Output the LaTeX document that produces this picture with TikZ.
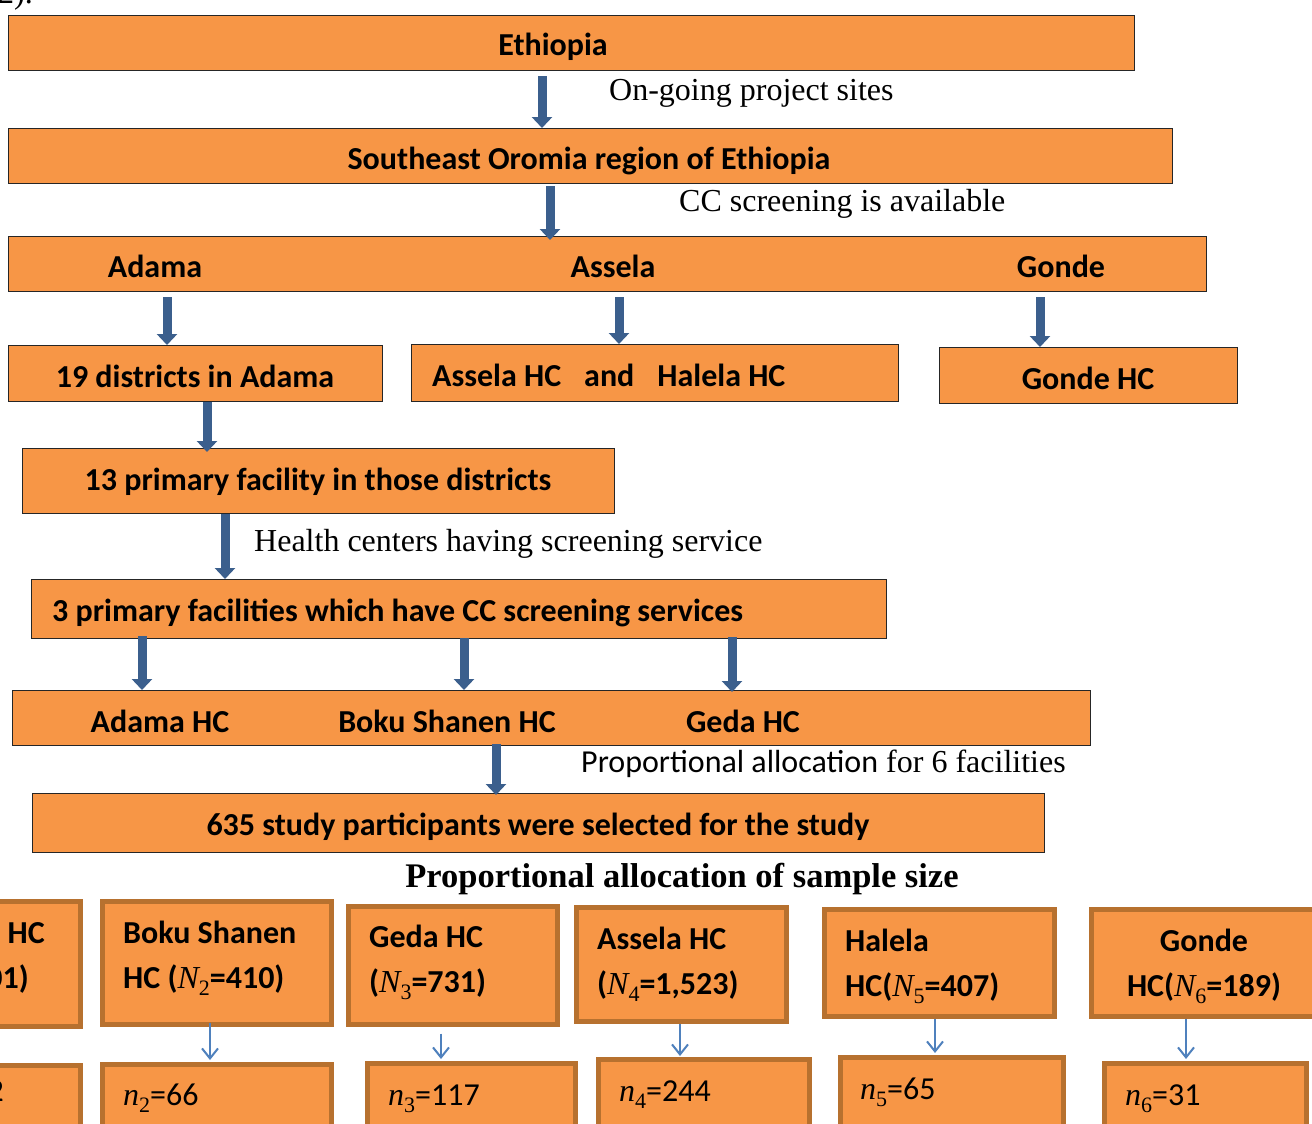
\documentclass[tikz,border=0pt]{standalone}
\usepackage{fontspec}
\setmainfont{Liberation Serif}
\newfontfamily\calfont{Carlito}
\usetikzlibrary{arrows.meta}
\definecolor{boxor}{HTML}{F79646}
\definecolor{boxedge}{HTML}{B7712F}
\definecolor{arrblue}{HTML}{3B5F8D}
\definecolor{thinblue}{HTML}{4F81BD}
\newcommand\mvar[2]{{\rmfamily\mdseries\itshape #1}\raisebox{-0.22em}{\rmfamily\mdseries\fontsize{22}{22}\selectfont #2}}
\begin{document}
\begin{tikzpicture}[x=1pt,y=-1pt,
 topbox/.style={draw=black!85, line width=1.3pt, fill=boxor, anchor=north west, inner sep=0pt},
 botbox/.style={draw=boxedge, line width=4.5pt, fill=boxor, anchor=north west, inner sep=0pt},
 boxtxt/.style={font=\calfont\bfseries\fontsize{32}{38}\selectfont, inner sep=0pt},
 smalltxt/.style={font=\calfont\fontsize{32}{38}\selectfont, inner sep=0pt},
 lbl/.style={font=\fontsize{32}{38}\selectfont, inner sep=0pt},
 bigarrow/.style={draw=arrblue, line width=9pt, -{Triangle[width=20pt,length=11pt]}},
 thinarrow/.style={draw=thinblue, line width=2pt, -{Straight Barb[width=16pt,length=10pt]}}]
\useasboundingbox[fill=white] (0,0) rectangle (1312,1124);

% partially visible heading
\node[lbl, anchor=base west] (hd) at (-2,4) {2).};

% ---------- top flow boxes ----------
\node[topbox, minimum width=1126pt, minimum height=55pt] (eth) at (8,15) {};
\node[topbox, minimum width=1164pt, minimum height=55pt] (sor) at (8,128) {};
\node[topbox, minimum width=1198pt, minimum height=55pt] (row3) at (8,236) {};
\node[topbox, minimum width=374pt, minimum height=56pt] (dist) at (8,345) {};
\node[topbox, minimum width=487pt, minimum height=57pt] (ash) at (411,344) {};
\node[topbox, minimum width=298pt, minimum height=56pt] (ghc) at (939,347) {};
\node[topbox, minimum width=592pt, minimum height=65pt] (prim) at (22,448) {};
\node[topbox, minimum width=855pt, minimum height=59pt] (three) at (31,579) {};
\node[topbox, minimum width=1078pt, minimum height=55pt] (hcrow) at (12,690) {};
\node[topbox, minimum width=1012pt, minimum height=59pt] (part) at (32,793) {};

% texts in boxes
\node[boxtxt, anchor=base] (tEth) at (553,56) {Ethiopia};
\node[boxtxt, anchor=base] (tSor) at (589,169) {Southeast Oromia region of Ethiopia};
\node[boxtxt, anchor=base] (tAd) at (155,277) {Adama};
\node[boxtxt, anchor=base] (tAs) at (613,277) {Assela};
\node[boxtxt, anchor=base] (tGo) at (1061,277) {Gonde};
\node[boxtxt, anchor=base] (tDist) at (195,387) {19 districts in Adama};
\node[boxtxt, anchor=base west] (tAsh) at (432,386) {Assela HC\hspace{23pt}and\hspace{23pt}Halela HC};
\node[boxtxt, anchor=base] (tGhc) at (1088,389) {Gonde HC};
\node[boxtxt, anchor=base] (tPrim) at (318,490) {13 primary facility in those districts};
\node[boxtxt, anchor=base west] (tThree) at (52,621) {3 primary facilities which have CC screening services};
\node[boxtxt, anchor=base] (tAhc) at (160,732) {Adama HC};
\node[boxtxt, anchor=base] (tBhc) at (447,732) {Boku Shanen HC};
\node[boxtxt, anchor=base] (tGdhc) at (743,732) {Geda HC};
\node[boxtxt, anchor=base] (tPart) at (538,835) {635 study participants were selected for the study};

% labels
\node[lbl, anchor=base west] (l1) at (609,100) {On-going project sites};
\node[lbl, anchor=base west] (l2) at (679,211) {CC screening is available};
\node[lbl, anchor=base west] (l3) at (254,551) {Health centers having screening service};
\node[lbl, anchor=base west] (l4) at (581,772) {{\calfont Proportional allocation} for 6 facilities};
\node[lbl, anchor=base, font=\bfseries\fontsize{34.5}{40}\selectfont] (l5) at (682,887) {Proportional allocation of sample size};

% arrow x positions
\coordinate (xa) at (542,0);
\coordinate (xb) at (550,0);
\coordinate (xc) at (167,0);
\coordinate (xd) at (619,0);
\coordinate (xe) at (1040,0);
\coordinate (xf) at (207,0);
\coordinate (xg) at (225,0);
\coordinate (xh) at (142,0);
\coordinate (xi) at (464,0);
\coordinate (xj) at (732,0);
\coordinate (xk) at (496,0);

\draw[bigarrow, shorten <=5pt] (eth.south -| xa) -- (sor.north -| xa);
\draw[bigarrow, shorten <=2pt, shorten >=-4pt] (sor.south -| xb) -- (row3.north -| xb);
\draw[bigarrow, shorten <=5pt] (row3.south -| xc) -- (dist.north -| xc);
\draw[bigarrow, shorten <=5pt] (row3.south -| xd) -- (ash.north -| xd);
\draw[bigarrow, shorten <=5pt] (row3.south -| xe) -- (ghc.north -| xe);
\draw[bigarrow, shorten >=-4pt] (dist.south -| xf) -- (prim.north -| xf);
\draw[bigarrow] (prim.south -| xg) -- (three.north -| xg);
\draw[bigarrow, shorten <=-3pt] (three.south -| xh) -- (hcrow.north -| xh);
\draw[bigarrow, shorten <=-1pt] (three.south -| xi) -- (hcrow.north -| xi);
\draw[bigarrow, shorten <=-2pt, shorten >=-2pt] (three.south -| xj) -- (hcrow.north -| xj);
\draw[bigarrow, shorten <=-2pt, shorten >=-2pt] (hcrow.south -| xk) -- (part.north -| xk);

% ---------- bottom allocation boxes ----------
\node[botbox, minimum width=226pt, minimum height=125pt] (b1) at (-148,899) {};
\node[botbox, minimum width=229pt, minimum height=123pt] (b2) at (100,899) {};
\node[botbox, minimum width=209pt, minimum height=118pt] (b3) at (346,904) {};
\node[botbox, minimum width=210pt, minimum height=114pt] (b4) at (574,905) {};
\node[botbox, minimum width=230pt, minimum height=107pt] (b5) at (822,907) {};
\node[botbox, minimum width=240pt, minimum height=107pt] (b6) at (1089,907) {};

\node[botbox, minimum width=226pt, minimum height=120pt] (c1) at (-148,1063) {};
\node[botbox, minimum width=229pt, minimum height=120pt] (c2) at (100,1062) {};
\node[botbox, minimum width=208pt, minimum height=120pt] (c3) at (365,1061) {};
\node[botbox, minimum width=211pt, minimum height=120pt] (c4) at (596,1057) {};
\node[botbox, minimum width=223pt, minimum height=120pt] (c5) at (838,1055) {};
\node[botbox, minimum width=202pt, minimum height=120pt] (c6) at (1102,1061) {};

\node[boxtxt, anchor=base east] (t1a) at (45,943) {Adama HC};
\node[boxtxt, anchor=base east] (t1b) at (29,988) {(\mvar{N}{1}=701)};
\node[boxtxt, anchor=base west] (t2a) at (123,943) {Boku Shanen};
\node[boxtxt, anchor=base west] (t2b) at (123,988) {HC (\mvar{N}{2}=410)};
\node[boxtxt, anchor=base west] (t3a) at (369,947) {Geda HC};
\node[boxtxt, anchor=base west] (t3b) at (369,992) {(\mvar{N}{3}=731)};
\node[boxtxt, anchor=base west] (t4a) at (597,949) {Assela HC};
\node[boxtxt, anchor=base west] (t4b) at (597,994) {(\mvar{N}{4}=1,523)};
\node[boxtxt, anchor=base west] (t5a) at (845,951) {Halela};
\node[boxtxt, anchor=base west] (t5b) at (845,996) {HC(\mvar{N}{5}=407)};
\node[boxtxt, anchor=base] (t6a) at (1204,951) {Gonde};
\node[boxtxt, anchor=base] (t6b) at (1204,996) {HC(\mvar{N}{6}=189)};

\node[smalltxt, anchor=base east] (s1) at (4,1101) {\mvar{n}{1}=112};
\node[smalltxt, anchor=base west] (s2) at (123,1105) {\mvar{n}{2}=66};
\node[smalltxt, anchor=base west] (s3) at (388,1105) {\mvar{n}{3}=117};
\node[smalltxt, anchor=base west] (s4) at (619,1101) {\mvar{n}{4}=244};
\node[smalltxt, anchor=base west] (s5) at (860,1099) {\mvar{n}{5}=65};
\node[smalltxt, anchor=base west] (s6) at (1125,1105) {\mvar{n}{6}=31};

\coordinate (y2) at (210,0);
\coordinate (y3) at (441,0);
\coordinate (y4) at (680,0);
\coordinate (y5) at (935,0);
\coordinate (y6) at (1186,0);
\draw[thinarrow, shorten <=-4pt, shorten >=2pt] (b2.south -| y2) -- (c2.north -| y2);
\draw[thinarrow, shorten <=7pt, shorten >=2pt] (b3.south -| y3) -- (c3.north -| y3);
\draw[thinarrow, shorten <=0pt, shorten >=1pt] (b4.south -| y4) -- (c4.north -| y4);
\draw[thinarrow, shorten <=0pt, shorten >=2pt] (b5.south -| y5) -- (c5.north -| y5);
\draw[thinarrow, shorten <=0pt, shorten >=2pt] (b6.south -| y6) -- (c6.north -| y6);
\end{tikzpicture}
\end{document}
